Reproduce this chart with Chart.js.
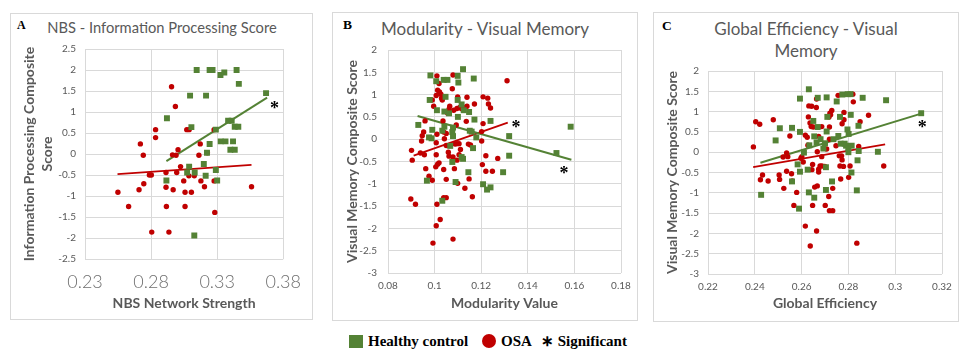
<!DOCTYPE html>
<html>
<head>
<meta charset="utf-8">
<script src="https://cdn.jsdelivr.net/npm/chart.js@4.4.1/dist/chart.umd.min.js"></script>
<style>
  body { margin: 0; background: #fff; width: 977px; height: 364px; position: relative; overflow: hidden; }
  .box { position: absolute; border: 1px solid #d9d9d9; box-sizing: border-box; }
  canvas { position: absolute; }
  .ttl { position: absolute; text-align: center; font-family: Lato, sans-serif; color: #595959; line-height: 1.2; white-space: nowrap; }
  .let { position: absolute; font: bold 13px "Liberation Serif", serif; line-height: 1; color: #000; }
  .leg { position: absolute; font: bold 15px "Liberation Serif", serif; line-height: 18px; color: #000; white-space: nowrap; }
</style>
</head>
<body>
<div class="box" style="left:10px;top:13px;width:303px;height:307px"></div>
<div class="box" style="left:332px;top:12px;width:306px;height:309px"></div>
<div class="box" style="left:653px;top:12px;width:306px;height:310px"></div>

<div class="let" style="left:17px;top:19px;font-size:12px">A</div>
<div class="let" style="left:343px;top:18px;font-size:13.5px">B</div>
<div class="let" style="left:662px;top:19px;font-size:13.5px">C</div>

<div class="ttl" style="left:12px;width:300px;top:19px;font-size:14.7px">NBS - Information Processing Score</div>
<div class="ttl" style="left:335px;width:300px;top:19px;font-size:17px">Modularity - Visual Memory</div>
<div class="ttl" style="left:656px;width:300px;top:18px;font-size:17px;line-height:22px">Global Efficiency - Visual<br>Memory</div>

<canvas id="chartA" width="303" height="307" style="left:10px;top:13px"></canvas>
<canvas id="chartB" width="306" height="309" style="left:332px;top:12px"></canvas>
<canvas id="chartC" width="306" height="310" style="left:653px;top:12px"></canvas>

<div style="position:absolute;left:349px;top:335px;width:14px;height:13px;background:#548235"></div>
<div class="leg" style="left:368px;top:332px">Healthy control</div>
<div style="position:absolute;left:482px;top:334px;width:14px;height:14px;border-radius:50%;background:#c00000"></div>
<div class="leg" style="left:501px;top:332px">OSA</div>
<div class="leg" style="left:541px;top:332px">&lowast; Significant</div>

<script>
// Panel A: NBS network strength vs information processing
var nbsHealthy = [[0.3145,2.0],[0.3243,2.0],[0.3265,2.0],[0.3325,1.88],[0.3354,1.94],[0.3447,2.0],[0.3464,1.67],
  [0.3670,1.45],[0.3095,1.39],[0.3216,1.39],[0.2920,0.85],[0.3105,0.64],[0.3383,0.79],[0.3410,0.79],[0.3433,0.65],
  [0.3460,0.65],[0.3290,0.58],[0.3327,0.30],[0.3363,0.30],[0.3420,0.30],[0.3400,0.10],[0.3433,0.10],[0.3243,0.24],
  [0.3223,0.03],[0.3199,-0.24],[0.3088,-0.30],[0.3290,-0.38],[0.3073,-0.44],[0.3130,-0.44],[0.3213,-0.52],
  [0.3300,-0.63],[0.2916,-0.63],[0.3127,-1.94]];
var nbsOsa = [[0.2549,-0.91],[0.2630,-1.25],[0.2719,0.24],[0.2741,-0.03],[0.2745,-0.71],[0.2709,-0.85],[0.2787,-0.50],
  [0.2802,-0.50],[0.2834,0.58],[0.2834,0.39],[0.2805,-1.86],[0.2955,1.60],[0.2984,1.13],[0.3004,0.10],[0.2962,-0.02],
  [0.2989,-0.03],[0.3023,-0.30],[0.2913,-0.44],[0.2994,-0.44],[0.2913,-0.79],[0.2967,-0.85],[0.2916,-1.25],
  [0.2935,-1.86],[0.3070,0.58],[0.3088,0.58],[0.3172,0.24],[0.3162,-0.03],[0.3086,-0.52],[0.3127,-0.52],
  [0.3047,-0.64],[0.3177,-0.64],[0.3204,-0.78],[0.3057,-0.91],[0.3105,-0.91],[0.3057,-1.25],[0.3226,0.03],
  [0.3277,0.58],[0.3277,-0.64],[0.3282,-1.39],[0.3560,-0.78]];
var nbsHealthyTrend = [[0.2916,-0.17],[0.3678,1.34]];
var nbsOsaTrend = [[0.2546,-0.48],[0.3560,-0.26]];
var nbsStars = [[0.3734,1.19]];
var nbsXTicks = [0.23,0.28,0.33,0.38];
var nbsYTicks = [-2.5,-2,-1.5,-1,-0.5,0,0.5,1,1.5,2,2.5];

// Panel B: modularity vs visual memory
var modHealthy = [[0.0982,1.43],[0.1007,1.30],[0.1039,1.33],[0.1055,1.33],[0.1099,1.42],[0.1102,1.27],[0.1122,1.57],
  [0.1168,1.36],[0.0979,0.88],[0.1010,0.65],[0.1047,0.95],[0.1099,0.88],[0.1116,0.78],[0.1125,0.65],[0.1148,0.61],
  [0.1042,0.62],[0.1062,0.58],[0.1100,0.50],[0.1171,0.44],[0.1240,0.41],[0.0930,0.32],[0.0990,0.21],[0.0976,0.04],
  [0.0987,0.02],[0.1033,0.19],[0.1042,0.28],[0.1079,0.26],[0.1076,0.16],[0.1079,0.07],[0.1151,0.19],[0.1159,0.17],
  [0.1179,0.04],[0.1320,0.07],[0.1165,-0.20],[0.1067,-0.15],[0.1122,-0.44],[0.1116,-0.40],[0.1076,-0.51],
  [0.1320,-0.37],[0.1523,-0.31],[0.1584,0.28],[0.1145,-0.74],[0.1294,-0.74],[0.0967,-0.93],[0.1090,-0.96],
  [0.1208,-1.01],[0.1225,-1.13],[0.1240,-1.08],[0.1033,-1.38]];
var modOsa = [[0.1311,1.31],[0.1010,1.42],[0.1079,1.44],[0.1019,1.25],[0.1076,1.13],[0.1013,1.10],[0.1021,1.06],
  [0.1007,0.98],[0.1027,1.01],[0.1030,0.92],[0.0990,0.88],[0.0996,0.74],[0.1033,0.88],[0.1099,0.95],[0.1139,0.94],
  [0.1208,0.95],[0.1228,0.92],[0.1231,0.79],[0.1240,0.70],[0.1171,0.79],[0.1065,0.74],[0.1062,0.67],[0.1082,0.65],
  [0.1096,0.69],[0.1108,0.71],[0.1116,0.68],[0.1125,0.71],[0.1139,0.74],[0.1056,0.58],[0.1036,0.41],[0.1136,0.40],
  [0.1093,0.32],[0.0959,0.41],[0.1208,0.35],[0.0953,0.16],[0.0947,0.08],[0.0944,-0.04],[0.1010,0.11],[0.1039,0.16],
  [0.1050,0.13],[0.1042,0.01],[0.1007,-0.08],[0.1050,-0.14],[0.1096,-0.10],[0.1105,-0.10],[0.1088,-0.11],
  [0.1111,-0.23],[0.1145,-0.11],[0.1154,-0.13],[0.1202,-0.04],[0.1202,0.17],[0.0901,-0.25],[0.0939,-0.31],
  [0.0956,-0.35],[0.0904,-0.47],[0.1007,-0.35],[0.1059,-0.29],[0.1062,-0.38],[0.1079,-0.40],[0.1105,-0.35],
  [0.1096,-0.47],[0.1220,-0.37],[0.1271,-0.43],[0.1013,-0.56],[0.1005,-0.62],[0.1019,-0.53],[0.0962,-0.66],
  [0.1039,-0.68],[0.1085,-0.66],[0.1205,-0.57],[0.1220,-0.72],[0.1248,-0.72],[0.0976,-0.83],[0.0990,-0.92],
  [0.1050,-0.90],[0.1099,-0.99],[0.1148,-0.89],[0.1130,-1.10],[0.1162,-1.29],[0.0898,-1.34],[0.0918,-1.46],
  [0.1010,-1.46],[0.1039,-1.31],[0.1050,-1.31],[0.1024,-1.80],[0.1007,-1.94],[0.1079,-2.24],[0.0993,-2.33]];
var modHealthyTrend = [[0.0927,0.52],[0.1587,-0.46]];
var modOsaTrend = [[0.0910,-0.37],[0.1314,0.37]];
var modStars = [[0.1349,0.36],[0.1555,-0.67]];
var modXTicks = [0.08,0.1,0.12,0.14,0.16,0.18];
var memYTicks = [-3,-2.5,-2,-1.5,-1,-0.5,0,0.5,1,1.5,2];

// Panel C: global efficiency vs visual memory
var effHealthy = [[0.2631,1.55],[0.2593,1.32],[0.2669,1.34],[0.2707,1.35],[0.2750,1.25],[0.2774,1.42],[0.2797,1.43],
  [0.2809,1.43],[0.2861,1.34],[0.2961,1.28],[0.3111,0.96],[0.2710,0.87],[0.2764,0.87],[0.2650,0.77],[0.2810,0.92],
  [0.2507,0.59],[0.2559,0.60],[0.2593,0.50],[0.2669,0.62],[0.2707,0.51],[0.2796,0.56],[0.2801,0.45],[0.2757,0.40],
  [0.2843,0.65],[0.2489,0.29],[0.2654,0.39],[0.2664,0.24],[0.2681,0.32],[0.2700,0.22],[0.2736,0.32],[0.2693,0.09],
  [0.2767,0.21],[0.2784,0.21],[0.2790,0.16],[0.2800,0.10],[0.2814,0.16],[0.2633,0.17],[0.2610,-0.01],[0.2800,0.00],
  [0.2844,0.03],[0.2926,0.01],[0.2583,-0.30],[0.2593,-0.48],[0.2626,-0.43],[0.2704,-0.37],[0.2839,-0.20],
  [0.2813,-0.50],[0.2559,-0.72],[0.2730,-0.72],[0.2704,-0.93],[0.2836,-0.94],[0.2631,-0.99],[0.2654,-1.12],
  [0.2427,-1.05],[0.2589,-1.39]];
var effOsa = [[0.2394,0.13],[0.2404,0.75],[0.2421,0.69],[0.2479,0.80],[0.2433,-0.56],[0.2424,-0.68],[0.2457,-0.71],
  [0.2504,-0.56],[0.2506,-0.67],[0.2524,-0.89],[0.2536,-0.02],[0.2541,-0.11],[0.2521,-0.12],[0.2536,-0.47],
  [0.2557,-0.53],[0.2550,0.40],[0.2560,-0.71],[0.2579,-0.99],[0.2567,-1.31],[0.2597,-0.15],[0.2601,-0.11],
  [0.2607,-0.24],[0.2616,0.42],[0.2624,0.37],[0.2627,0.17],[0.2629,0.87],[0.2631,1.14],[0.2643,1.13],[0.2664,1.31],
  [0.2663,1.10],[0.2636,0.72],[0.2641,0.63],[0.2650,0.62],[0.2644,-0.43],[0.2647,-0.30],[0.2673,-0.42],
  [0.2673,-0.49],[0.2679,-0.34],[0.2686,0.63],[0.2673,0.39],[0.2667,0.01],[0.2686,-0.11],[0.2687,-0.34],
  [0.2699,-0.35],[0.2707,0.08],[0.2717,0.87],[0.2721,0.96],[0.2729,1.03],[0.2724,0.92],[0.2719,0.62],[0.2719,0.32],
  [0.2656,-0.86],[0.2667,-0.83],[0.2716,-1.09],[0.2733,-0.89],[0.2647,-1.31],[0.2701,-1.31],[0.2719,-1.44],
  [0.2733,-1.44],[0.2616,-1.82],[0.2664,-1.94],[0.2637,-2.31],[0.2836,-2.24],[0.2756,1.40],[0.2819,1.43],
  [0.2821,1.24],[0.2781,0.98],[0.2781,0.80],[0.2773,0.70],[0.2850,0.75],[0.2886,0.91],[0.2747,0.16],[0.2761,-0.09],
  [0.2771,-0.09],[0.2773,-0.19],[0.2764,-0.34],[0.2779,-0.35],[0.2767,-0.66],[0.2801,-0.62],[0.2807,-0.34],
  [0.2844,0.14],[0.2951,-0.34]];
var effHealthyTrend = [[0.2424,-0.26],[0.3111,0.95]];
var effOsaTrend = [[0.2393,-0.37],[0.2957,0.19]];
var effStars = [[0.3116,0.72]];
var effXTicks = [0.22,0.24,0.26,0.28,0.3,0.32];

var GREEN = '#548235';
var RED = '#c00000';
var GRAY = '#595959';

Chart.defaults.font.family = 'Lato, sans-serif';

function pts(arr) {
  return arr.map(function(p) { return {x: p[0], y: p[1]}; });
}

// draws the "*" significance marks at data positions
var starPlugin = {
  id: 'stars',
  afterDatasetsDraw: function(chart, args, opts) {
    var ctx = chart.ctx;
    ctx.save();
    ctx.font = 'bold 18px "Liberation Serif", serif';
    ctx.fillStyle = '#000';
    ctx.textAlign = 'center';
    ctx.textBaseline = 'alphabetic';
    (opts.marks || []).forEach(function(m) {
      var px = chart.scales.x.getPixelForValue(m[0]);
      var py = chart.scales.y.getPixelForValue(m[1]);
      ctx.fillText('*', px, py + 10);
    });
    ctx.restore();
  }
};

function panel(id, p) {
  return new Chart(document.getElementById(id), {
    type: 'scatter',
    data: {
      datasets: [
        {label: 'Healthy control', data: pts(p.hc), pointStyle: 'rect', pointRadius: 4.2, backgroundColor: GREEN, borderWidth: 0},
        {label: 'OSA', data: pts(p.osa), pointStyle: 'circle', pointRadius: 2.7, backgroundColor: RED, borderWidth: 0},
        {type: 'line', data: pts(p.hcTrend), borderColor: GREEN, borderWidth: 2, pointRadius: 0, fill: false},
        {type: 'line', data: pts(p.osaTrend), borderColor: RED, borderWidth: 1.8, pointRadius: 0, fill: false}
      ]
    },
    options: {
      responsive: false,
      animation: false,
      events: [],
      layout: {padding: {left: 0, right: p.padR, top: p.padT, bottom: 0}},
      plugins: {legend: {display: false}, tooltip: {enabled: false}, stars: {marks: p.stars}},
      scales: {
        x: {
          type: 'linear', min: p.xTicks[0], max: p.xTicks[p.xTicks.length - 1],
          afterBuildTicks: function(s) { s.ticks = p.xTicks.map(function(v) { return {value: v}; }); },
          afterFit: function(s) { s.height = p.xH; },
          grid: {color: '#d9d9d9', drawTicks: false},
          border: {display: false},
          ticks: {padding: p.xTickPad, autoSkip: false, maxRotation: 0, color: p.xTickColor || GRAY,
                  font: {size: p.xTickSize, weight: p.xTickWeight || 'normal'},
                  callback: function(v) { return String(v); }},
          title: {display: true, text: p.xTitle, color: GRAY, font: {size: 14, weight: 'bold'},
                  padding: {top: 0, bottom: p.xTitlePad}}
        },
        y: {
          type: 'linear', min: p.yTicks[0], max: p.yTicks[p.yTicks.length - 1],
          afterBuildTicks: function(s) { s.ticks = p.yTicks.map(function(v) { return {value: v}; }); },
          afterFit: function(s) { s.width = p.yW; },
          grid: {color: '#d9d9d9', drawTicks: false},
          border: {display: false},
          ticks: {padding: p.yTickPad, autoSkip: false, color: GRAY, font: {size: 10},
                  callback: function(v) { return String(v); }},
          title: {display: true, text: p.yTitle, color: GRAY, font: {size: 14, weight: 'bold', lineHeight: 1.3},
                  padding: {top: p.yTitlePad, bottom: 0}}
        }
      }
    },
    plugins: [starPlugin]
  });
}

panel('chartA', {
  hc: nbsHealthy, osa: nbsOsa, hcTrend: nbsHealthyTrend, osaTrend: nbsOsaTrend, stars: nbsStars,
  xTicks: nbsXTicks, yTicks: nbsYTicks,
  xTitle: 'NBS Network Strength', yTitle: ['Information Processing Composite', 'Score'],
  padR: 24, padT: 36, xH: 61, yW: 75, xTickPad: 12, yTickPad: 9, xTitlePad: 8, yTitlePad: 10,
  xTickSize: 18, xTickWeight: '300', xTickColor: '#6f6f6f'
});

panel('chartB', {
  hc: modHealthy, osa: modOsa, hcTrend: modHealthyTrend, osaTrend: modOsaTrend, stars: modStars,
  xTicks: modXTicks, yTicks: memYTicks,
  xTitle: 'Modularity Value', yTitle: 'Visual Memory Composite Score',
  padR: 17, padT: 38, xH: 48, yW: 56, xTickPad: 7, yTickPad: 11, xTitlePad: 9, yTitlePad: 11.5,
  xTickSize: 10
});

panel('chartC', {
  hc: effHealthy, osa: effOsa, hcTrend: effHealthyTrend, osaTrend: effOsaTrend, stars: effStars,
  xTicks: effXTicks, yTicks: memYTicks,
  xTitle: 'Global Efficiency', yTitle: 'Visual Memory Composite Score',
  padR: 17, padT: 59, xH: 48, yW: 55, xTickPad: 7, yTickPad: 9, xTitlePad: 10, yTitlePad: 10.5,
  xTickSize: 10
});
</script>
</body>
</html>
